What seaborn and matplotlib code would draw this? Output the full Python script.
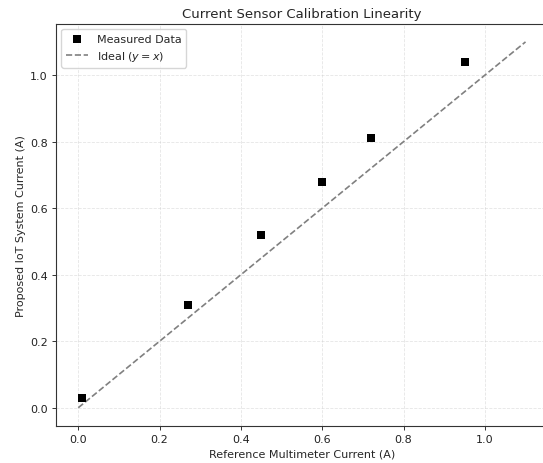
import matplotlib
matplotlib.use("Agg")
import matplotlib.pyplot as plt
import seaborn as sns
import numpy as np
import pandas as pd

reference = [0.01, 0.27, 0.45, 0.60, 0.72, 0.95]
measured = [0.03, 0.31, 0.52, 0.68, 0.81, 1.04]
ideal_x = [0.0, 1.1]
ideal_y = [0.0, 1.1]

sns.set_style("white")
plt.rcParams['font.family'] = ['DejaVu Sans']

fig, ax = plt.subplots(figsize=(5.43, 4.64), dpi=100)
fig.subplots_adjust(left=0.103, right=1.009, top=0.947, bottom=0.0797)

df = pd.DataFrame({"ref": reference, "meas": measured})
sns.scatterplot(data=df, x="ref", y="meas", marker="s", color="black", s=30,
                edgecolor="black", linewidth=0, label="Measured Data", ax=ax, zorder=3)
sns.lineplot(x=ideal_x, y=ideal_y, color="gray", linestyle="--", linewidth=1.2,
             label="Ideal ($y=x$)", ax=ax)

ax.set_xlim(-0.055, 1.155)
ax.set_ylim(-0.055, 1.155)
ax.set_xticks([0.0, 0.2, 0.4, 0.6, 0.8, 1.0])
ax.set_yticks([0.0, 0.2, 0.4, 0.6, 0.8, 1.0])
ax.grid(True, linestyle="--", alpha=0.5, color="#cccccc", linewidth=0.6)
for s in ax.spines.values():
    s.set_color("#333333")
    s.set_linewidth(0.8)
ax.tick_params(axis="both", which="major", labelsize=8, length=3, width=0.7,
               color="#333333", labelcolor="#222222", bottom=True, left=True, pad=2.8)

ax.set_xlabel("Reference Multimeter Current (A)", fontsize=8, labelpad=3)
ax.set_ylabel("Proposed IoT System Current (A)", fontsize=8, labelpad=3)
ax.set_title("Current Sensor Calibration Linearity", fontsize=9.5, pad=4.5)
ax.legend(loc="upper left", fontsize=8, frameon=True)

fig.savefig("out.png", dpi=100)
